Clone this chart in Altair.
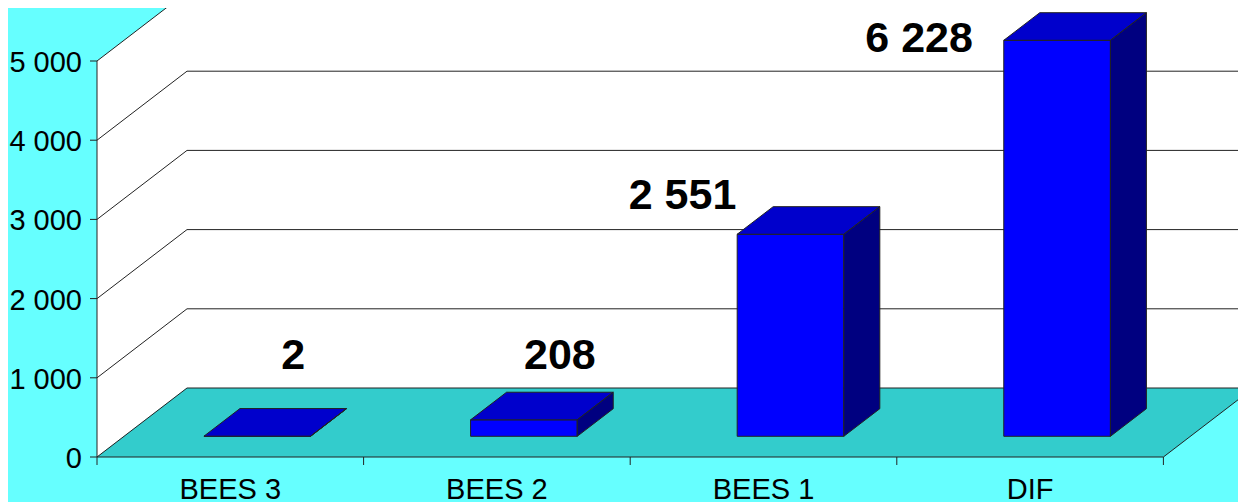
import altair as alt
import pandas as pd

# ---------------- data ----------------
categories = ["BEES 3", "BEES 2", "BEES 1", "DIF"]
values = [2, 208, 2551, 6228]
value_labels = ["2", "208", "2 551", "6 228"]
y_ticks = [0, 1000, 2000, 3000, 4000, 5000]
y_tick_labels = ["0", "1 000", "2 000", "3 000", "4 000", "5 000"]

# ---------------- layout (not data) ----------------
AXIS_MAX = 5000
PX_PER_CAT = 266.6          # pixels per category slot
PX_PER_VAL = 0.0792         # pixels per value unit
DX = 90 / PX_PER_CAT        # 3-D depth offset in category units
DY = 69 / PX_PER_VAL        # 3-D depth offset in value units
W, H = 1230, 494
X0_PX, Y0_PX = 89, 449      # origin position inside the plot area
x_dom = [-X0_PX / PX_PER_CAT, (W - X0_PX) / PX_PER_CAT]
y_dom = [-(H - Y0_PX) / PX_PER_VAL, Y0_PX / PX_PER_VAL]
BAR_W = 0.4
D_FRONT, D_BACK = 0.3, 0.7
# label nudges (pixels) relative to the back-top edge of each bar
label_nudge_x = [0, 0, -144, -174]
label_nudge_y = [-40, -23, 2, 39]

FONT = "Liberation Sans"
BG = "#66FFFF"
FLOOR = "#33CCCC"
FRONT = "#0000FF"
TOP = "#0000CC"
SIDE = "#000080"
LINE = "#222222"

xs = alt.Scale(domain=x_dom, nice=False, zero=False)
ys = alt.Scale(domain=y_dom, nice=False, zero=False)

def X(f="x"):
    return alt.X(f"{f}:Q", scale=xs, axis=None)

def Y(f="y"):
    return alt.Y(f"{f}:Q", scale=ys, axis=None)

n = len(categories)

# ---------------- walls & floor ----------------
back_wall = pd.DataFrame([{"x": DX, "x2": x_dom[1], "y": DY, "y2": AXIS_MAX + DY}])
back_wall_l = alt.Chart(back_wall).mark_rect(fill="white", clip=True).encode(
    x=X(), x2="x2:Q", y=Y(), y2="y2:Q")

left_wall = pd.DataFrame([
    {"x": 0, "y": 0, "y2": AXIS_MAX},
    {"x": DX, "y": DY, "y2": AXIS_MAX + DY},
])
left_wall_l = alt.Chart(left_wall).mark_area(fill="white", orient="vertical", clip=True).encode(
    x=X(), y=Y(), y2="y2:Q")

grid_back = pd.DataFrame([{"x": DX, "x2": x_dom[1], "y": v + DY} for v in y_ticks[1:]])
grid_back_l = alt.Chart(grid_back).mark_rule(color=LINE, strokeWidth=1, clip=True).encode(
    x=X(), x2="x2:Q", y=Y())

grid_diag = pd.DataFrame([{"x": 0, "x2": DX, "y": v, "y2": v + DY} for v in y_ticks[1:]])
grid_diag_l = alt.Chart(grid_diag).mark_rule(color=LINE, strokeWidth=1, clip=True).encode(
    x=X(), x2="x2:Q", y=Y(), y2="y2:Q")

floor = pd.DataFrame([
    {"y": 0, "x": 0, "x2": n},
    {"y": DY, "x": DX, "x2": n + DX},
])
floor_l = alt.Chart(floor).mark_area(
    fill=FLOOR, stroke=LINE, strokeWidth=1, orient="horizontal", clip=True
).encode(y=Y(), x=X(), x2="x2:Q")

# ---------------- bars ----------------
front_rows, top_rows, side_rows, lab_rows = [], [], [], []
for i, (c, v) in enumerate(zip(categories, values)):
    h = min(v, AXIS_MAX)
    xl = i + 0.5 - BAR_W / 2
    xr = i + 0.5 + BAR_W / 2
    front_rows.append({"bar": c, "x": xl + D_FRONT * DX, "x2": xr + D_FRONT * DX,
                       "y": D_FRONT * DY, "y2": h + D_FRONT * DY})
    for d in (D_FRONT, D_BACK):
        top_rows.append({"bar": c, "y": h + d * DY, "x": xl + d * DX, "x2": xr + d * DX})
        side_rows.append({"bar": c, "x": xr + d * DX, "y": d * DY, "y2": h + d * DY})
    lab_rows.append({
        "label": value_labels[i],
        "x": (xl + xr) / 2 + D_BACK * DX + label_nudge_x[i] / PX_PER_CAT,
        "y": h + D_BACK * DY - label_nudge_y[i] / PX_PER_VAL,
    })

front_l = alt.Chart(pd.DataFrame(front_rows)).mark_rect(
    fill=FRONT, stroke=LINE, strokeWidth=1).encode(x=X(), x2="x2:Q", y=Y(), y2="y2:Q")
top_l = alt.Chart(pd.DataFrame(top_rows)).mark_area(
    fill=TOP, stroke=LINE, strokeWidth=1, orient="horizontal").encode(
    y=Y(), x=X(), x2="x2:Q", detail="bar:N")
side_l = alt.Chart(pd.DataFrame(side_rows)).mark_area(
    fill=SIDE, stroke=LINE, strokeWidth=1, orient="vertical").encode(
    x=X(), y=Y(), y2="y2:Q", detail="bar:N")

val_l = alt.Chart(pd.DataFrame(lab_rows)).mark_text(
    font=FONT, fontSize=43, fontWeight="bold", color="black",
    align="center", baseline="alphabetic").encode(x=X(), y=Y(), text="label:N")

# ---------------- axes ----------------
yaxis_line = alt.Chart(pd.DataFrame([{"x": 0, "y": 0, "y2": AXIS_MAX}])).mark_rule(
    color=LINE, strokeWidth=1).encode(x=X(), y=Y(), y2="y2:Q")
ytick_df = pd.DataFrame([{"x": -7 / PX_PER_CAT, "x2": 0, "y": v, "label": t}
                         for v, t in zip(y_ticks, y_tick_labels)])
ytick_l = alt.Chart(ytick_df).mark_rule(color=LINE, strokeWidth=1).encode(
    x=X(), x2="x2:Q", y=Y())
ylab_l = alt.Chart(ytick_df).mark_text(
    font=FONT, fontSize=29, color="black", align="right", baseline="alphabetic",
    dx=-15, dy=11).encode(x=alt.X("x2:Q", scale=xs, axis=None), y=Y(), text="label:N")

xtick_df = pd.DataFrame([{"x": i, "y": 0, "y2": -8 / PX_PER_VAL} for i in range(n + 1)])
xtick_l = alt.Chart(xtick_df).mark_rule(color=LINE, strokeWidth=1).encode(
    x=X(), y=Y(), y2="y2:Q")
xlab_df = pd.DataFrame([{"x": i + 0.5, "y": 0, "label": c} for i, c in enumerate(categories)])
xlab_l = alt.Chart(xlab_df).mark_text(
    font=FONT, fontSize=29, color="black", align="center", baseline="alphabetic",
    dy=42).encode(x=X(), y=Y(), text="label:N")

chart = alt.layer(
    back_wall_l, left_wall_l, grid_back_l, grid_diag_l, floor_l,
    front_l, top_l, side_l, yaxis_line, ytick_l, xtick_l, ylab_l, xlab_l, val_l
).properties(
    width=W, height=H, padding=0,
    autosize=alt.AutoSizeParams(type="none"),
    background=BG,
).configure_view(stroke=None)

chart.save("out.html", embed_options={"renderer": "svg", "actions": False})
